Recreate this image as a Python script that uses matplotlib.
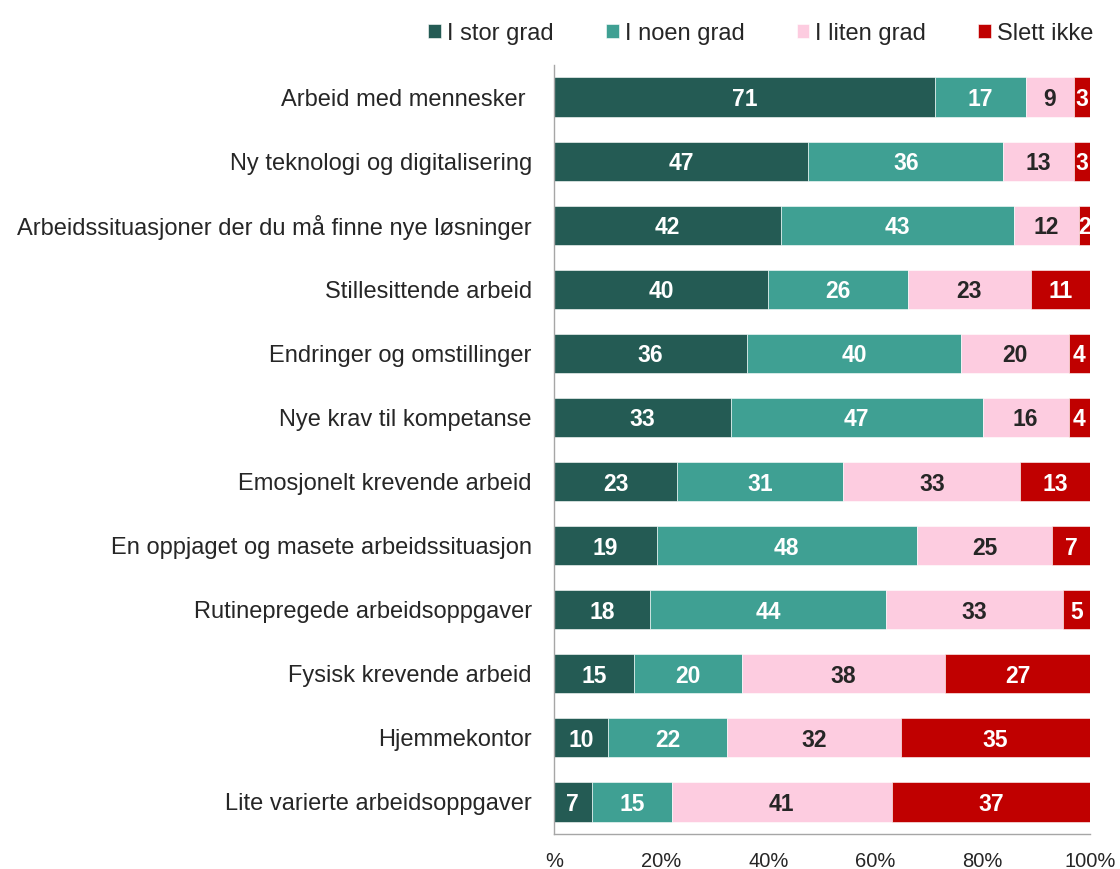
import matplotlib
matplotlib.use("Agg")
import matplotlib.pyplot as plt
import numpy as np

plt.rcParams['font.family'] = ['Liberation Sans', 'DejaVu Sans']

categories = [
    "Arbeid med mennesker ",
    "Ny teknologi og digitalisering",
    "Arbeidssituasjoner der du må finne nye løsninger",
    "Stillesittende arbeid",
    "Endringer og omstillinger",
    "Nye krav til kompetanse",
    "Emosjonelt krevende arbeid",
    "En oppjaget og masete arbeidssituasjon",
    "Rutinepregede arbeidsoppgaver",
    "Fysisk krevende arbeid",
    "Hjemmekontor",
    "Lite varierte arbeidsoppgaver",
]
series_names = ["I stor grad", "I noen grad", "I liten grad", "Slett ikke"]
stor = [71, 47, 42, 40, 36, 33, 23, 19, 18, 15, 10, 7]
noen = [17, 36, 43, 26, 40, 47, 31, 48, 44, 20, 22, 15]
liten = [9, 13, 12, 23, 20, 16, 33, 25, 33, 38, 32, 41]
slett = [3, 3, 2, 11, 4, 4, 13, 7, 5, 27, 35, 37]
tick_values = [0, 20, 40, 60, 80, 100]
tick_labels = ["%", "20%", "40%", "60%", "80%", "100%"]

colors = ["#245B54", "#3FA093", "#FDCCE0", "#C00000"]
text_colors = ["white", "white", "#262626", "white"]

fig = plt.figure(figsize=(11.2, 8.69), dpi=100)
ax = fig.add_axes([554/1120, 1-834/869, (1090-554)/1120, (834-65)/869])

data = np.array([stor, noen, liten, slett], dtype=float)
totals = data.sum(axis=0)
pct = data / totals * 100
y = np.arange(len(categories))
left = np.zeros(len(categories))
for i, name in enumerate(series_names):
    ax.barh(y, pct[i], left=left, height=0.61, color=colors[i], label=name,
            edgecolor="white", linewidth=0.4)
    for j in range(len(categories)):
        ax.text(left[j] + pct[i][j] / 2, y[j], f"{int(data[i][j])}",
                ha="center", va="center_baseline", fontsize=16.5,
                fontweight="bold", color=text_colors[i])
    left += pct[i]

ax.set_xlim(0, 100)
ax.set_ylim(len(categories) - 0.5, -0.5)
ax.set_yticks(y)
ax.set_yticklabels(categories, fontsize=17, color="#262626")
ax.set_xticks(tick_values)
ax.set_xticklabels(tick_labels, fontsize=14.5, color="#262626")
ax.tick_params(axis="both", length=0)
ax.tick_params(axis="y", pad=16)
ax.tick_params(axis="x", pad=13)
for s in ["top", "right"]:
    ax.spines[s].set_visible(False)
for s in ["left", "bottom"]:
    ax.spines[s].set_color("#A6A6A6")
    ax.spines[s].set_linewidth(1.0)

fig.legend(loc="upper right", bbox_to_anchor=(1110/1120, 1-6/869), ncol=4,
           frameon=False, fontsize=17, handlelength=0.55, handleheight=0.55,
           handletextpad=0.25, columnspacing=2.2, labelcolor="#262626",
           borderpad=0.2)

fig.savefig("out.png", dpi=100)
